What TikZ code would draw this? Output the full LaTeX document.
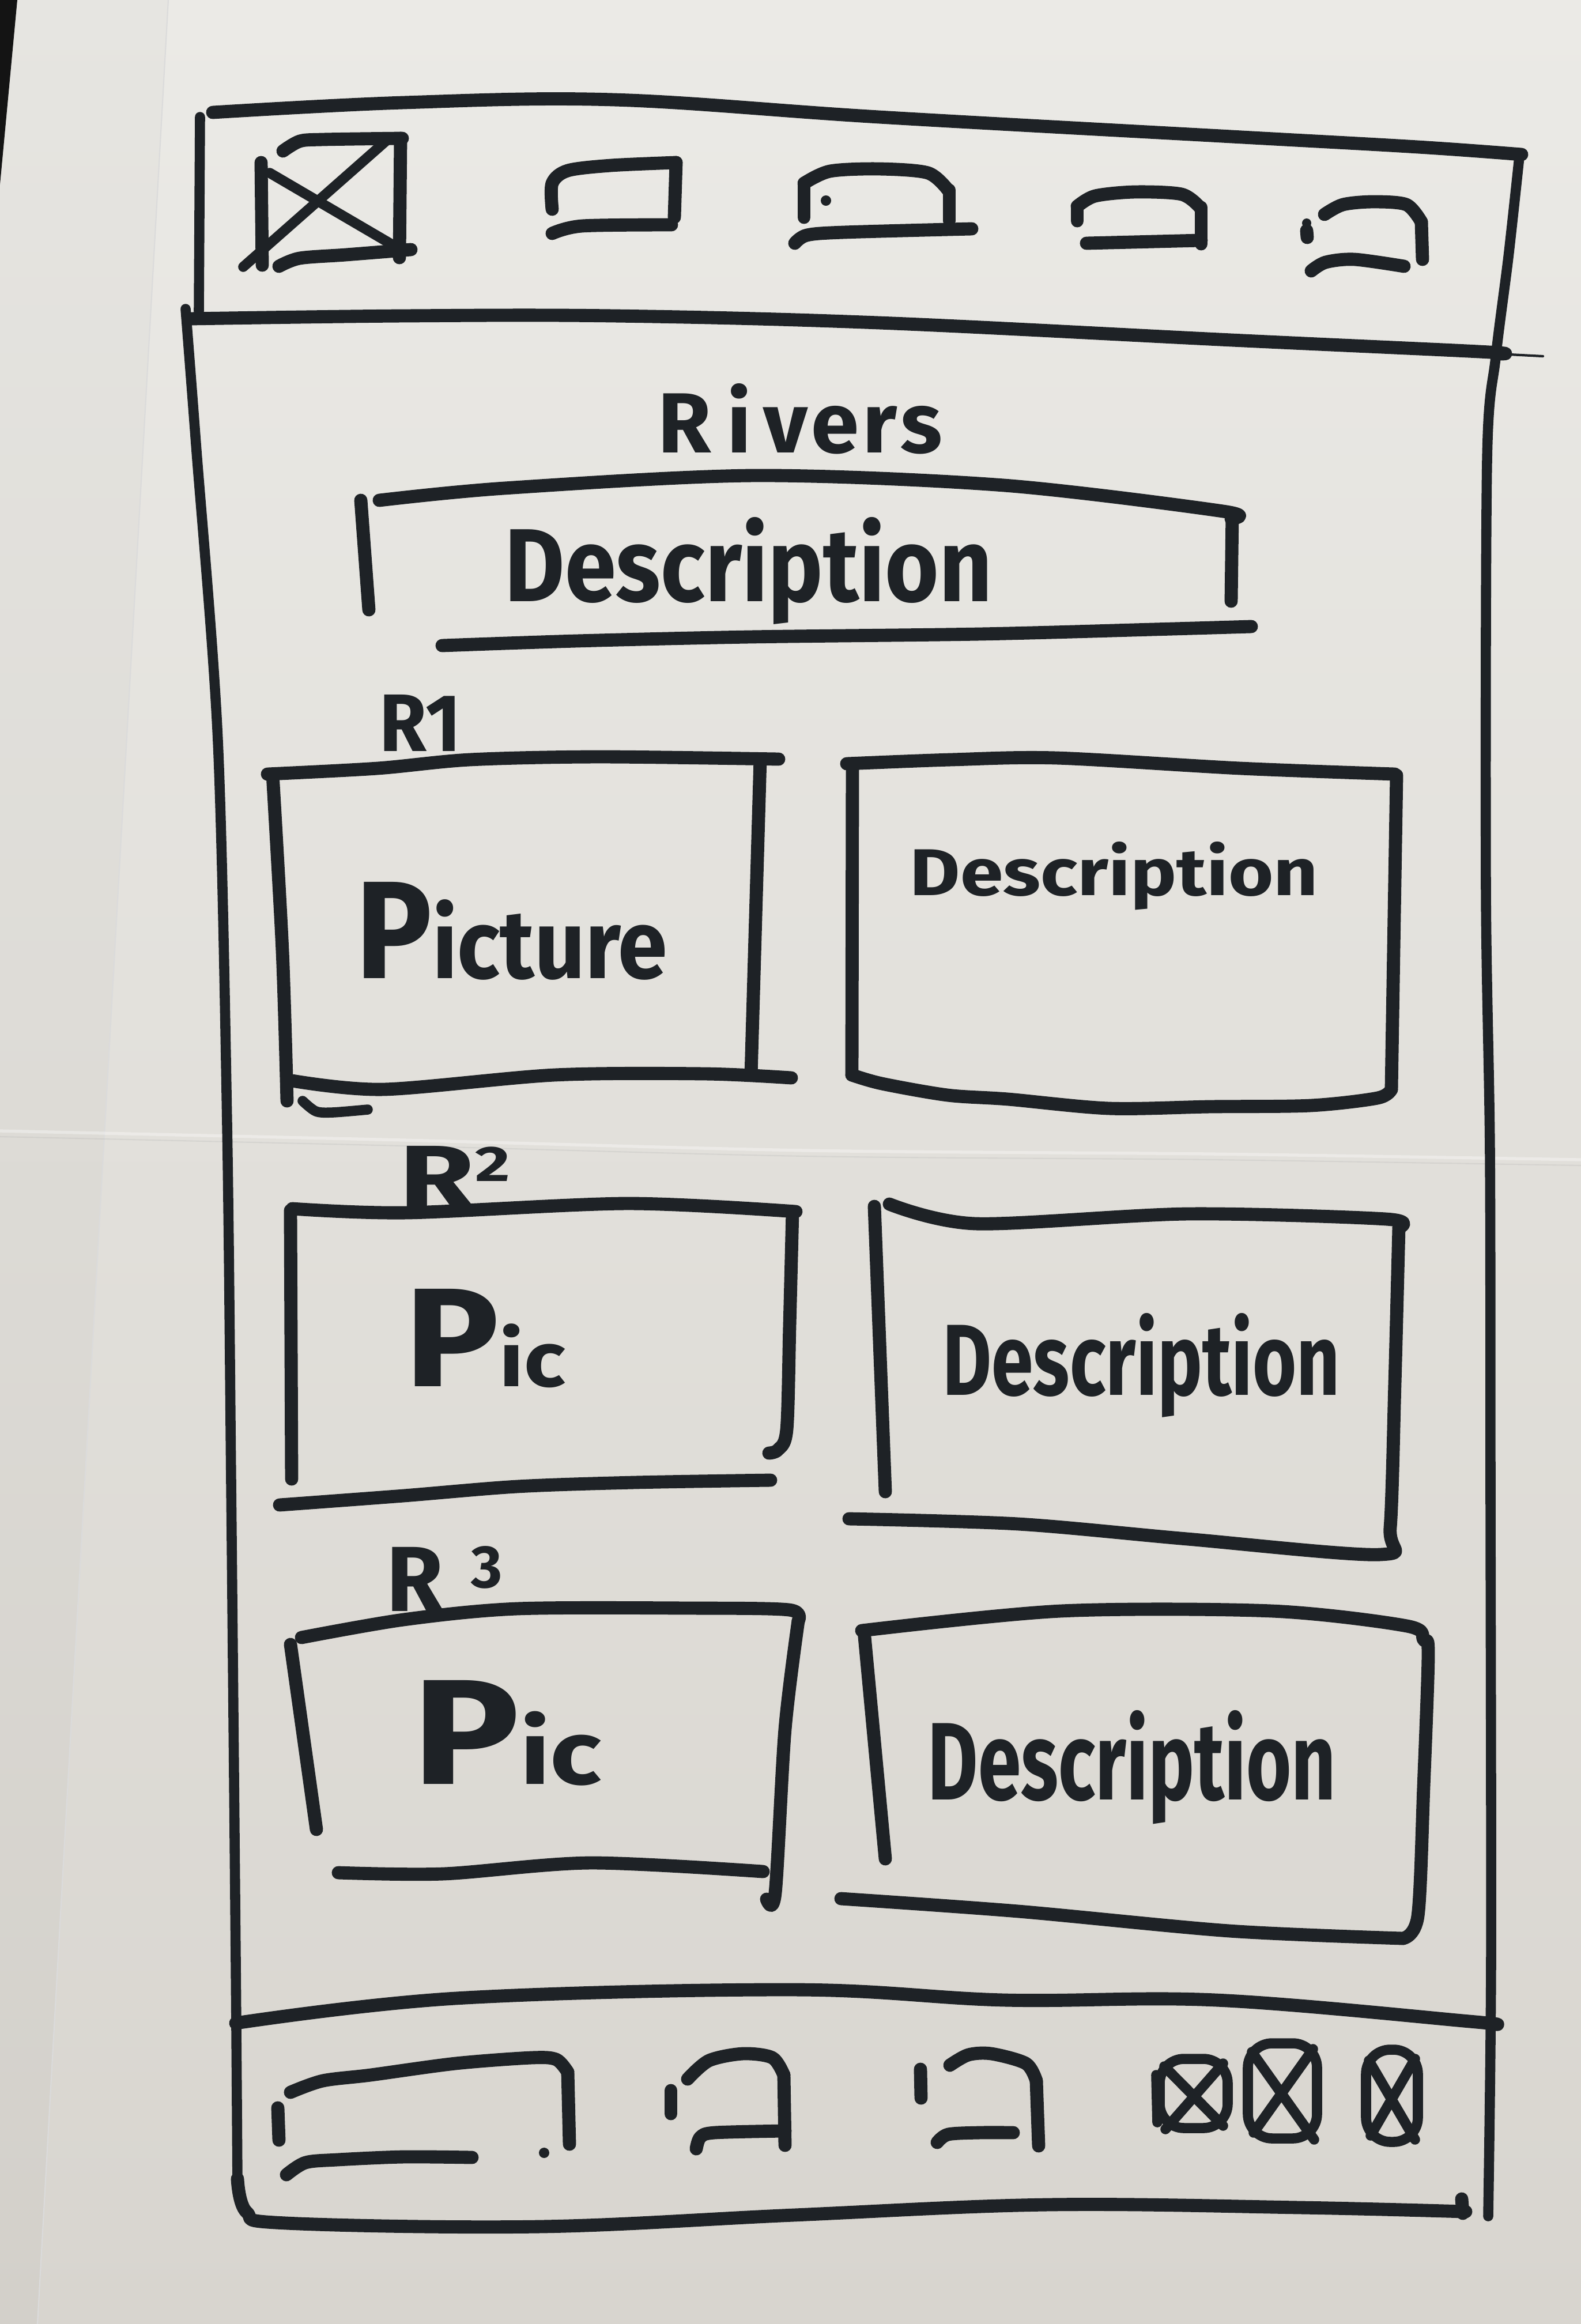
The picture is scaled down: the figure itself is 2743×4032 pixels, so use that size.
\documentclass[tikz,border=0pt]{standalone}
\usepackage{fontspec}
\setmainfont{Fira Sans}
\usepackage{graphicx}
\definecolor{inkc}{RGB}{30,34,38}
\definecolor{paperTop}{RGB}{235,234,230}
\definecolor{paperBot}{RGB}{216,213,207}
\begin{document}
\begin{tikzpicture}[x=0.01cm,y=-0.01cm,
  ink/.style={draw=inkc,line width=6.5pt,line cap=round,line join=round},
  frame/.style={ink,line width=5pt},
  fine/.style={ink,line width=5pt},
  handtext/.style={inner sep=0pt,anchor=base west,text=inkc,font=\bfseries}]

% paper
\useasboundingbox (0,0) rectangle (2743,4032);
\fill[top color=paperTop,bottom color=paperBot] (0,0) rectangle (2743,4032);
\fill[black,opacity=0.018] (0,0) -- (292,0) -- (65,4032) -- (0,4032) -- cycle;
\draw[black!14,line width=0.6pt] (292,0) -- (65,4032);
\fill[black!92] (0,0) -- (30,0) -- (0,320) -- cycle;
% fold crease across the sheet
\draw[white,opacity=0.35,line width=1.5pt] plot[smooth] coordinates {(0,1962) (700,1978) (1400,1996) (2100,2002) (2743,2012)};
\draw[black!30,opacity=0.25,line width=0.6pt] plot[smooth] coordinates {(0,1972) (700,1988) (1400,2006) (2100,2012) (2743,2022)};

% ---------- outer frame ----------
\draw[ink] plot[smooth,tension=0.6] coordinates {(369,195) (700,178) (1065,173) (1525,203) (2137,237) (2460,255) (2640,268)};
\draw[frame] (347,203) -- (345,540);
\draw[ink] plot[smooth,tension=0.6] coordinates {(330,553) (700,548) (1065,548) (1525,560) (2137,590) (2566,610) (2600,614)};
\draw[inkc,line width=1.2pt,line cap=round] (2600,614) -- (2677,618);
\draw[frame] plot[smooth] coordinates {(322,536) (340,770) (378,1285) (394,1950) (401,2571) (409,3400) (412,3790)};
\draw[frame] plot[smooth] coordinates {(2636,272) (2617,446) (2595,620) (2580,800) (2578,1540) (2585,2000) (2586,2600) (2587,3400) (2582,3845)};
\draw[ink] plot[smooth,tension=0.6] coordinates {(409,3510) (790,3467) (1377,3452) (1743,3470) (2110,3470) (2550,3507) (2587,3512)};
\draw[ink] plot[smooth,tension=0.6] coordinates {(412,3780) (428,3838) (497,3857) (937,3863) (1377,3843) (1817,3825) (2257,3830) (2543,3837)};
\draw[ink] (2536,3815) -- (2538,3840);

% ---------- top bar icons ----------
% crossed box
\draw[ink] (453,282) -- (455,460);
\draw[ink] plot[smooth] coordinates {(491,262) (520,245) (560,242) (698,240)};
\draw[ink] (695,240) -- (693,447);
\draw[ink] plot[smooth] coordinates {(484,462) (520,448) (600,442) (713,433)};
\draw[fine] (675,240) -- (422,463);
\draw[fine] (468,300) -- (690,430);
% tab 1
\draw[ink] plot[smooth] coordinates {(958,363) (958,318) (985,296) (1060,287) (1173,282)};
\draw[ink] (1173,282) -- (1170,377);
\draw[ink] plot[smooth] coordinates {(958,405) (1010,392) (1165,390)};
% tab 2
\draw[ink] (1395,377) -- (1395,318);
\draw[ink] plot[smooth] coordinates {(1395,318) (1440,297) (1525,293) (1610,300) (1645,330)};
\draw[ink] (1647,330) -- (1647,383);
\draw[ink] plot[smooth] coordinates {(1379,422) (1400,408) (1464,403) (1686,397)};
\fill[inkc] (1433,348) circle (9);
% tab 3
\draw[ink] (1869,383) -- (1869,358);
\draw[ink] plot[smooth] coordinates {(1869,358) (1900,340) (1969,333) (2050,337) (2082,360)};
\draw[ink] (2084,360) -- (2084,423);
\draw[ink] (1885,422) -- (2084,417);
% tab 4
\draw[ink] plot[smooth] coordinates {(2298,372) (2330,355) (2382,350) (2440,355) (2466,385)};
\draw[ink] (2466,385) -- (2468,450);
\draw[ink] plot[smooth] coordinates {(2275,470) (2300,455) (2350,450) (2436,462)};
\fill[inkc] (2267,387) circle (8);
\draw[ink] (2267,400) -- (2268,412);

% ---------- title and description ----------
\node[handtext] (title) at (1141,785) {\resizebox{4.93cm}{1.20cm}{R\hspace{0.18em}i\hspace{0.14em}v\hspace{0.04em}e\hspace{0.04em}r\hspace{0.04em}s}};
\draw[ink] plot[smooth] coordinates {(658,868) (875,847) (1309,825) (1742,842) (2122,887) (2136,900)};
\draw[ink] (626,868) -- (640,1058);
\draw[ink] (2138,890) -- (2136,1043);
\draw[ink] plot[smooth] coordinates {(767,1120) (1000,1112) (1300,1105) (1700,1100) (2000,1092) (2171,1087)};
\node[handtext] (introdesc) at (875,1043) {\resizebox{8.46cm}{1.46cm}{Description}};

% ---------- row 1 ----------
\node[handtext] (r1) at (658,1303) {\resizebox{1.41cm}{0.98cm}{R1}};
\draw[ink] plot[smooth] coordinates {(464,1343) (655,1333) (815,1318) (1038,1313) (1351,1317)};
\draw[ink] plot[smooth] coordinates {(473,1343) (490,1650) (498,1910)};
\draw[ink] (1319,1317) -- (1303,1865);
\draw[ink] plot[smooth] coordinates {(507,1875) (665,1890) (962,1865) (1224,1863) (1373,1870)};
\draw[fine] plot[smooth] coordinates {(525,1910) (548,1928) (577,1930) (638,1925)};
\node[handtext] (pic1) at (617,1697) {\resizebox{5.40cm}{1.67cm}{P\scalebox{0.7}{icture}}};

\draw[ink] plot[smooth] coordinates {(1469,1325) (1650,1318) (1833,1315) (2152,1333) (2420,1343)};
\draw[ink] (1479,1330) -- (1478,1865);
\draw[ink] (2423,1345) -- (2414,1890);
\draw[ink] plot[smooth] coordinates {(1478,1865) (1530,1880) (1644,1900) (1749,1907) (1924,1923) (2099,1920) (2274,1918) (2390,1905) (2414,1890)};
\node[handtext] (desc1) at (1578,1553) {\resizebox{7.08cm}{0.93cm}{Description}};

% ---------- row 2 ----------
\node[handtext] (r2) at (692,2097) {\resizebox{1.92cm}{1.09cm}{R\raisebox{0.3em}{\scalebox{0.55}{2}}}};
\draw[ink] plot[smooth] coordinates {(507,2097) (705,2104) (1088,2088) (1381,2102)};
\draw[ink] (504,2100) -- (506,2566);
\draw[ink] plot[smooth] coordinates {(1375,2102) (1370,2300) (1365,2480) (1350,2515) (1334,2521)};
\draw[ink] plot[smooth] coordinates {(485,2611) (700,2595) (897,2579) (1100,2572) (1337,2568)};
\node[handtext] (pic2) at (702,2405) {\resizebox{2.78cm}{1.69cm}{P\scalebox{0.55}{ic}}};

\draw[ink] (1517,2093) -- (1536,2588);
\draw[ink] plot[smooth] coordinates {(1543,2089) (1693,2123) (2060,2106) (2405,2115) (2427,2130)};
\draw[ink] plot[smooth,tension=0.5] coordinates {(2427,2130) (2420,2400) (2412,2650) (2395,2697) (2060,2670) (1767,2644) (1473,2635)};
\node[handtext] (desc2) at (1635,2420) {\resizebox{6.89cm}{1.42cm}{Description}};

% ---------- row 3 ----------
\node[handtext] (r3) at (670,2795) {\resizebox{2.01cm}{1.12cm}{R\hspace{0.3em}\raisebox{0.25em}{\scalebox{0.65}{3}}}};
\draw[ink] plot[smooth] coordinates {(523,2841) (700,2810) (897,2791) (1200,2790) (1369,2793) (1385,2812)};
\draw[ink] plot[smooth] coordinates {(1385,2812) (1362,3000) (1345,3284) (1330,3295)};
\draw[ink] (504,2853) -- (549,3174);
\draw[ink] plot[smooth] coordinates {(587,3249) (769,3251) (1024,3232) (1324,3247)};
\node[handtext] (pic3) at (715,3095) {\resizebox{3.28cm}{1.80cm}{P\scalebox{0.6}{ic}}};

\draw[ink] plot[smooth,tension=0.5] coordinates {(1495,2829) (1840,2795) (2207,2795) (2441,2821) (2470,2845) (2478,2870) (2470,3100) (2460,3324) (2434,3363)};
\draw[ink] (1499,2829) -- (1536,3225);
\draw[ink] plot[smooth] coordinates {(1459,3294) (1767,3316) (2133,3350) (2434,3363)};
\node[handtext] (desc3) at (1609,3122) {\resizebox{7.08cm}{1.55cm}{Description}};

% ---------- bottom bar icons ----------
\draw[ink] plot[smooth] coordinates {(504,3630) (560,3610) (643,3600) (790,3580) (922,3570) (965,3573) (985,3595)};
\draw[ink] (985,3595) -- (988,3720);
\draw[ink] plot[smooth] coordinates {(497,3773) (530,3752) (585,3747) (700,3742) (819,3743)};
\fill[inkc] (944,3735) circle (9);
\draw[ink] (482,3657) -- (484,3713);

\draw[ink] (1164,3627) -- (1164,3667);
\draw[ink] plot[smooth] coordinates {(1193,3607) (1230,3575) (1289,3563) (1340,3570) (1360,3600)};
\draw[ink] (1360,3600) -- (1362,3722);
\draw[ink] plot[smooth] coordinates {(1208,3728) (1215,3708) (1240,3700) (1362,3697)};

\draw[ink] (1597,3590) -- (1598,3640);
\draw[ink] plot[smooth] coordinates {(1648,3583) (1680,3565) (1720,3563) (1780,3580) (1798,3610)};
\draw[ink] (1798,3610) -- (1802,3723);
\draw[ink] plot[smooth] coordinates {(1626,3717) (1645,3703) (1700,3700) (1758,3700)};

\draw[fine,rounded corners=12] (2012,3572) rectangle (2130,3692);
\draw[fine] (2020,3585) -- (2122,3688) (2122,3580) -- (2022,3694);
\draw[fine] (2006,3600) -- (2008,3682);
\draw[fine,rounded corners=12] (2165,3545) rectangle (2285,3710);
\draw[fine] (2172,3560) -- (2280,3712) (2278,3555) -- (2175,3700);
\draw[fine,rounded corners=12] (2370,3556) rectangle (2460,3716);
\draw[fine] (2375,3575) -- (2455,3712) (2455,3572) -- (2378,3705);
\end{tikzpicture}
\end{document}
